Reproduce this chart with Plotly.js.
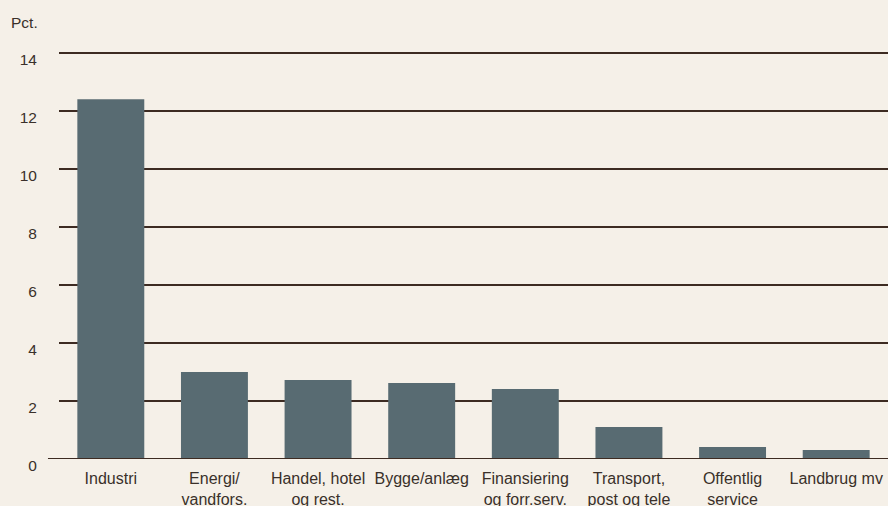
<!DOCTYPE html>
<html>
<head>
<meta charset="utf-8">
<script src="https://cdn.plot.ly/plotly-3.0.1.min.js"></script>
<style>html,body{margin:0;padding:0;background:#f5f0e8;}#chart{width:888px;height:506px;}</style>
</head>
<body>
<div id="chart"></div>
<script>
const categories = ["Industri", "Energi/<br>vandfors.", "Handel, hotel<br>og rest.", "Bygge/anlæg", "Finansiering<br>og forr.serv.", "Transport,<br>post og tele", "Offentlig<br>service", "Landbrug mv"];
const values = [12.4, 3.0, 2.72, 2.62, 2.41, 1.1, 0.41, 0.31];
const yTicks = [0, 2, 4, 6, 8, 10, 12, 14];

const trace = {
  type: 'bar',
  x: categories,
  y: values,
  marker: {color: '#586b72', line: {width: 0}},
  hoverinfo: 'skip'
};

const layout = {
  width: 888, height: 506,
  paper_bgcolor: '#f5f0e8', plot_bgcolor: '#f5f0e8',
  margin: {l: 59, r: 0, t: 50, b: 47},
  bargap: 0.354,
  showlegend: false,
  font: {family: 'Liberation Sans, Arial, sans-serif', size: 16, color: '#3a302a'},
  xaxis: {
    type: 'category',
    showgrid: false, zeroline: false, showline: false,
    ticks: 'outside', ticklen: 5, tickcolor: 'rgba(0,0,0,0)',
    tickfont: {size: 16, color: '#3a302a'},
    fixedrange: true
  },
  yaxis: {
    range: [0, 14.1],
    tickvals: yTicks,
    ticktext: yTicks.map(String),
    showgrid: true, gridcolor: '#3d2b22', gridwidth: 1.3,
    zeroline: false, showline: false,
    ticks: 'outside', ticklen: 18, tickcolor: 'rgba(0,0,0,0)',
    ticklabelshift: 7,
    tickfont: {size: 15.5, color: '#3a302a'},
    fixedrange: true
  },
  shapes: [{
    type: 'line', xref: 'paper', yref: 'y',
    x0: -0.0133, x1: 1, y0: 0, y1: 0,
    line: {color: '#3d2b22', width: 1.8}
  }],
  annotations: [{
    text: 'Pct.', xref: 'paper', yref: 'paper',
    x: -0.0579, y: 1.0, xanchor: 'left', yanchor: 'bottom',
    xshift: -2, yshift: 17, showarrow: false,
    font: {size: 15.5, color: '#3a302a'}
  }]
};

Plotly.newPlot('chart', [trace], layout, {displayModeBar: false, staticPlot: true});
</script>
</body>
</html>
